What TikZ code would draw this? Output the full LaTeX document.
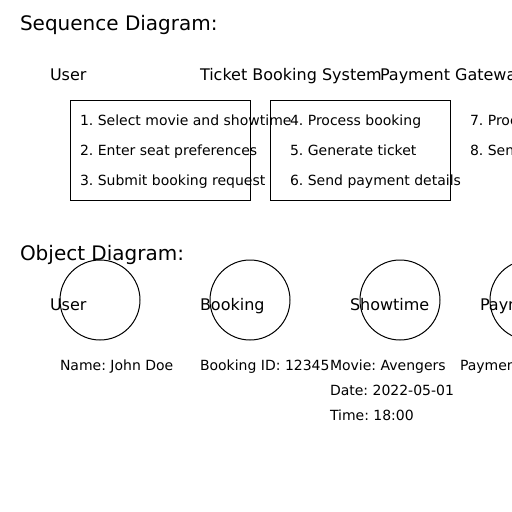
\documentclass[tikz,border=0pt]{standalone}
\usepackage{fontspec}
\setmainfont{DejaVu Sans}
\usetikzlibrary{positioning}
\frenchspacing
\tikzstyle{txt} = [anchor=base west, inner sep=0pt, outer sep=0pt]
\tikzstyle{heading} = [txt, font=\fontsize{20}{24}\selectfont]
\tikzstyle{actor} = [txt, font=\fontsize{16}{19}\selectfont]
\tikzstyle{msg} = [txt, font=\fontsize{14}{17}\selectfont]

\begin{document}
\begin{tikzpicture}[x=1pt, y=-1pt, line width=1pt,
        lifebox/.style={draw, minimum width=180pt, minimum height=100pt,
            anchor=north west, inner sep=0pt, outer sep=0pt},
        object/.style={draw, circle, minimum size=80pt, inner sep=0pt}]
        \useasboundingbox (0,0) rectangle (512,512);
        \clip (0,0) rectangle (512,512);
        %% Sequence diagram
        \node [heading] at (20,30) (SeqTitle) {Sequence Diagram:};
        \node [actor] at (50,80) (UserHead) {User};
        \node [actor] at (200,80) (SystemHead) {Ticket Booking System};
        \node [actor] at (380,80) (GatewayHead) {Payment Gateway};
        \node [lifebox] at (70,100) (UserBox) {};
        \node [lifebox] at (270,100) (SystemBox) {};
        %% Messages
        \node [msg] at (80,125) (M1) {1. Select movie and showtime};
        \node [msg] at (80,155) (M2) {2. Enter seat preferences};
        \node [msg] at (80,185) (M3) {3. Submit booking request};
        \node [msg] at (290,125) (M4) {4. Process booking};
        \node [msg] at (290,155) (M5) {5. Generate ticket};
        \node [msg] at (290,185) (M6) {6. Send payment details};
        \node [msg] at (470,125) (M7) {7. Process payment};
        \node [msg] at (470,155) (M8) {8. Send confirmation};
        %% Object diagram
        \node [heading] at (20,260) (ObjTitle) {Object Diagram:};
        \node [object] at (100,300) (UserObj) {};
        \node [object] at (250,300) (BookingObj) {};
        \node [object] at (400,300) (ShowtimeObj) {};
        \node [object] at (530,300) (PaymentObj) {};
        \node [actor] at (50,310) (UserName) {User};
        \node [actor] at (200,310) (BookingName) {Booking};
        \node [actor] at (350,310) (ShowtimeName) {Showtime};
        \node [actor] at (480,310) (PaymentName) {Payment};
        %% Attributes
        \node [msg] at (60,370) (A1) {Name: John Doe};
        \node [msg] at (200,370) (A2) {Booking ID: 12345};
        \node [msg] at (330,370) (A3) {Movie: Avengers};
        \node [msg] at (330,395) (A4) {Date: 2022-05-01};
        \node [msg] at (330,420) (A5) {Time: 18:00};
        \node [msg] at (460,370) (A6) {Payment ID: 67890};
    \end{tikzpicture}
\end{document}
